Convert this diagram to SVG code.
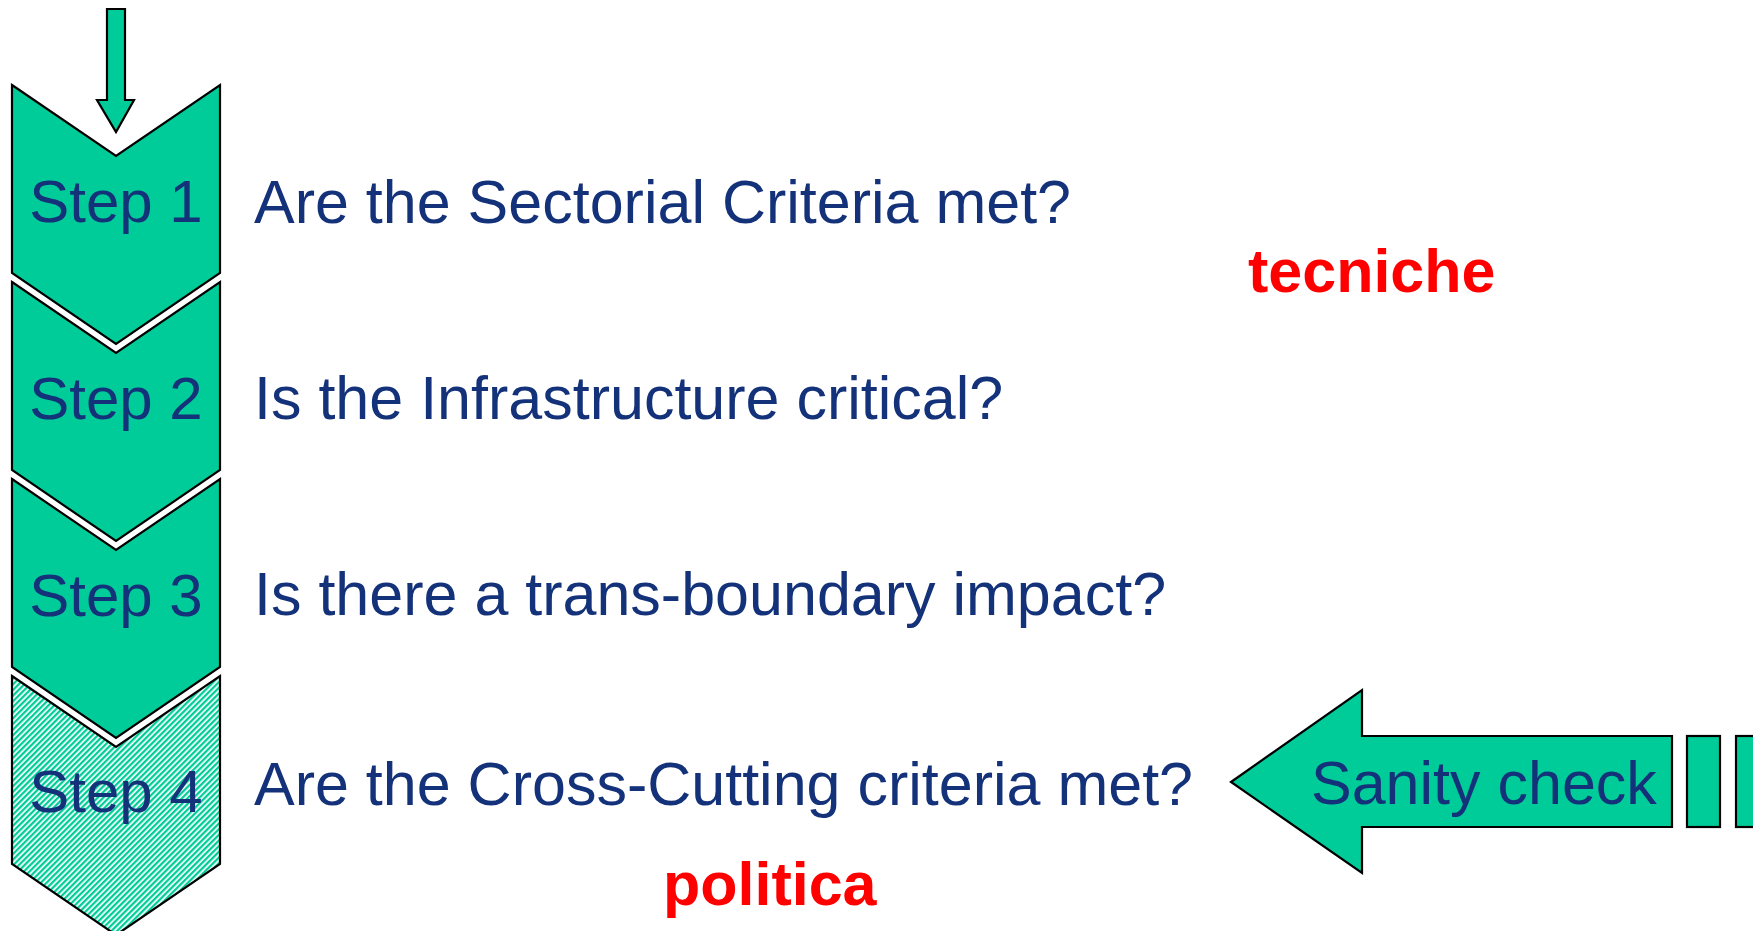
<svg xmlns="http://www.w3.org/2000/svg" width="1753" height="931" viewBox="0 0 1753 931">
<style>
.shape{fill:#00CC99;stroke:#000;stroke-width:2.2;stroke-linejoin:miter}
.hatch{fill:url(#hatch);stroke:#000;stroke-width:2.2}
.lbl{font-family:"Liberation Sans",Arial,sans-serif;font-size:60px;fill:#14327A}
.q{font-family:"Liberation Sans",Arial,sans-serif;font-size:61px;fill:#14327A}
.red{font-family:"Liberation Sans",Arial,sans-serif;font-size:61px;font-weight:bold;fill:#FF0000}
</style>
<defs>
<pattern id="hatch" width="4" height="4" patternUnits="userSpaceOnUse" patternTransform="rotate(45)">
<rect width="4" height="4" fill="#ffffff"/>
<rect width="2.3" height="4" fill="#00CC99"/>
</pattern>
</defs>
<rect width="1753" height="931" fill="#ffffff"/>
<g id="connectors">
<polygon class="shape" points="107,9 125,9 125,100 134,100 116,132 97,100 107,100"/>
</g>
<g id="step1">
<polygon class="shape" points="12,85 116,156 220,85 220,273 116,344 12,273"/>
<text class="lbl" x="116" y="222" text-anchor="middle">Step 1</text>
</g>
<g id="step2">
<polygon class="shape" points="12,282 116,353 220,282 220,470 116,541 12,470"/>
<text class="lbl" x="116" y="419" text-anchor="middle">Step 2</text>
</g>
<g id="step3">
<polygon class="shape" points="12,479 116,550 220,479 220,667 116,738 12,667"/>
<text class="lbl" x="116" y="616" text-anchor="middle">Step 3</text>
</g>
<g id="step4">
<polygon class="hatch" points="12,676 116,747 220,676 220,864 116,935 12,864"/>
<text class="lbl" x="116" y="812" text-anchor="middle">Step 4</text>
</g>
<g id="questions">
<text class="q" x="254" y="223">Are the Sectorial Criteria met?</text>
<text class="q" x="254" y="419">Is the Infrastructure critical?</text>
<text class="q" x="254" y="615">Is there a trans-boundary impact?</text>
<text class="q" x="254" y="805">Are the Cross-Cutting criteria met?</text>
</g>
<g id="sanity">
<polygon class="shape" points="1231,782 1362,690 1362,736 1672,736 1672,827 1362,827 1362,873"/>
<rect class="shape" x="1687" y="736" width="33" height="91"/>
<rect class="shape" x="1736" y="736" width="40" height="91"/>
<text class="q" x="1311" y="804">Sanity check</text>
</g>
<g id="labels">
<text class="red" x="1248" y="292">tecniche</text>
<text class="red" x="663" y="905">politica</text>
</g>
</svg>
